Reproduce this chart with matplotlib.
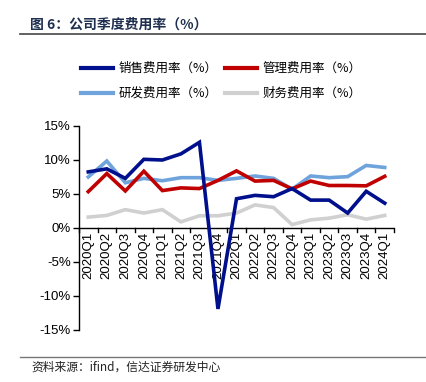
import matplotlib
matplotlib.use("Agg")
import matplotlib.pyplot as plt
from matplotlib.lines import Line2D
import numpy as np

plt.rcParams['font.family'] = ['Liberation Sans', 'Noto Sans CJK SC', 'DejaVu Sans']

quarters = ["2020Q1", "2020Q2", "2020Q3", "2020Q4",
            "2021Q1", "2021Q2", "2021Q3", "2021Q4",
            "2022Q1", "2022Q2", "2022Q3", "2022Q4",
            "2023Q1", "2023Q2", "2023Q3", "2023Q4", "2024Q1"]
sales = [8.25, 8.7, 7.3, 10.1, 10.0, 10.9, 12.6, -11.9,
         4.3, 4.8, 4.6, 5.8, 4.1, 4.1, 2.2, 5.4, 3.65]
admin = [5.35, 8.0, 5.45, 8.35, 5.5, 5.9, 5.8, 7.0,
         8.4, 6.9, 7.0, 5.75, 6.9, 6.25, 6.25, 6.2, 7.6]
rnd = [7.5, 9.85, 6.65, 7.3, 6.95, 7.4, 7.4, 7.0,
       7.3, 7.65, 7.3, 5.7, 7.65, 7.4, 7.55, 9.2, 8.9]
fin = [1.6, 1.85, 2.7, 2.2, 2.7, 0.9, 1.8, 1.8,
       2.2, 3.4, 3.0, 0.5, 1.2, 1.45, 1.95, 1.3, 1.85]

series_names = ["销售费用率（%）", "管理费用率（%）", "研发费用率（%）", "财务费用率（%）"]
series_colors = ["#00108C", "#C00000", "#6FA3DB", "#D0D0D0"]
y_ticks = [-15, -10, -5, 0, 5, 10, 15]

W, H = 427, 382
fig = plt.figure(figsize=(W / 100, H / 100), dpi=100)

ax = fig.add_axes([79 / W, 1 - 330 / H, 315 / W, (330 - 126) / H])
x = np.arange(len(quarters))
lines = []
for vals, col in zip([sales, admin, rnd, fin], series_colors):
    ln, = ax.plot(x, vals, color=col, lw=2.6, solid_joinstyle='miter', zorder=3)
    lines.append(ln)
lines[0].set_zorder(6)
lines[1].set_zorder(5)
lines[2].set_zorder(4)
lines[3].set_zorder(3)

ax.set_xlim(-0.5, len(quarters) - 0.5)
ax.set_ylim(-15, 15)
ax.set_yticks(y_ticks)
ax.set_yticklabels([f"{v}%" for v in y_ticks], fontsize=9.5, family=['Liberation Sans'])
ax.tick_params(axis='y', direction='out', length=4, width=1, pad=2)

for s in ['top', 'right', 'bottom']:
    ax.spines[s].set_visible(False)
ax.spines['left'].set_linewidth(1)
ax.axhline(0, color='black', lw=1, zorder=2)

ax.set_xticks([])
for b in np.arange(len(quarters) + 1) - 0.5:
    ax.plot([b, b], [0, -0.55], color='black', lw=1, zorder=2, clip_on=False)
for xi, q in zip(x, quarters):
    ax.text(xi, -0.6, q, rotation=90, ha='center', va='top', fontsize=9.5,
            family=['Liberation Sans'], zorder=1)

# title and rules
fig.text(30 / W, 1 - 25 / H, "图 6：公司季度费用率（%）", fontsize=10, fontweight='bold',
         color='#1F2F4F', family=['Noto Sans CJK SC'], ha='left', va='center')
fig.add_artist(Line2D([20 / W, 1], [1 - 34 / H, 1 - 34 / H], color='#555555', lw=1.3))
fig.add_artist(Line2D([20 / W, 1], [1 - 356.5 / H, 1 - 356.5 / H], color='#777777', lw=1.0))
fig.text(31 / W, 1 - 367 / H, "资料来源：ifind，信达证券研发中心", fontsize=8.5,
         color='#222222', family=['Noto Sans CJK SC'], style='italic', ha='left', va='center')

# legend
order = [0, 2, 1, 3]
leg = fig.legend([lines[i] for i in order], [series_names[i] for i in order],
                 loc='center', bbox_to_anchor=(221 / W, 1 - 81 / H), ncol=2,
                 frameon=False, handlelength=2.6, handletextpad=0.4,
                 columnspacing=0.6, labelspacing=0.95,
                 prop={'family': ['Noto Sans CJK SC'], 'size': 9})
for lh in leg.get_lines():
    lh.set_linewidth(3)

fig.savefig("out.png", dpi=100)
